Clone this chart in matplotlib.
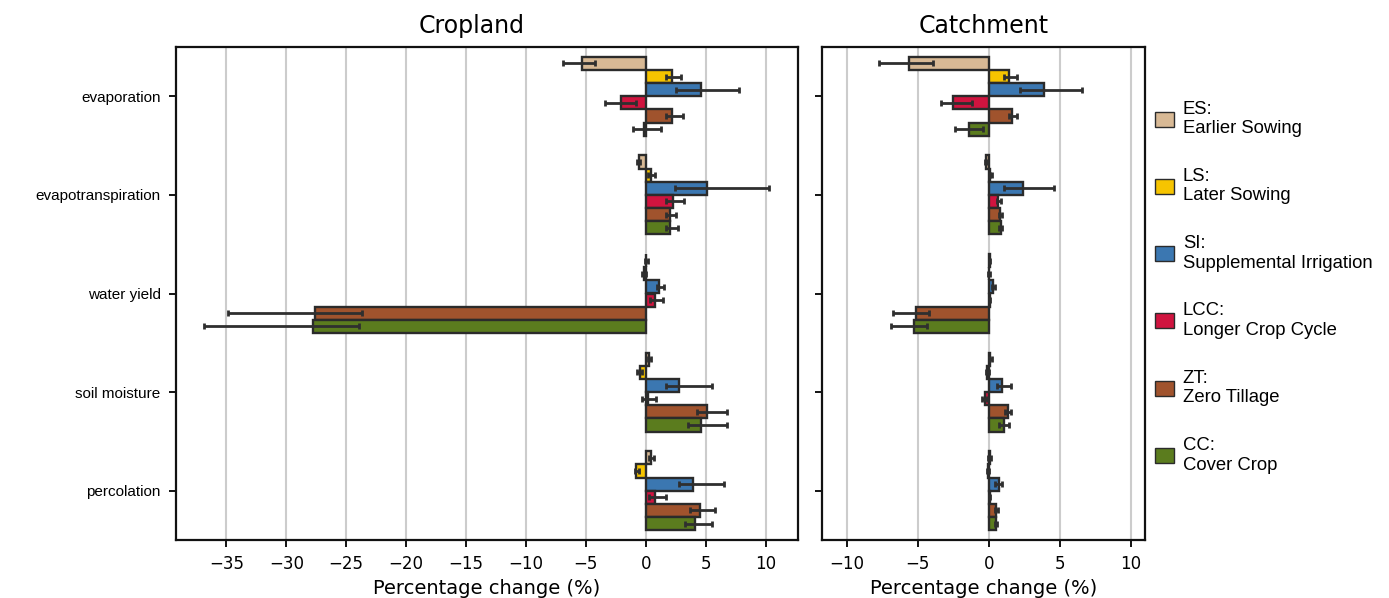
import numpy as np
import matplotlib
matplotlib.use("Agg")
import matplotlib.pyplot as plt
from matplotlib.patches import Patch

variables = ["evaporation", "evapotranspiration", "water yield", "soil moisture", "percolation"]
scenarios = ["ES", "LS", "SI", "LCC", "ZT", "CC"]
legend_labels = ["ES:\nEarlier Sowing", "LS:\nLater Sowing", "SI:\nSupplemental Irrigation",
                 "LCC:\nLonger Crop Cycle", "ZT:\nZero Tillage", "CC:\nCover Crop"]
colors = ["#D8B995", "#F6C400", "#3B77B1", "#D0143F", "#A0532D", "#5B7C1E"]

# Cropland: mean, lower CI, upper CI  (rows: variables, cols: scenarios)
crop_val = [[-5.3, 2.2, 4.6, -2.1, 2.2, -0.15],
            [-0.6, 0.4, 5.1, 2.25, 2.0, 2.0],
            [0.05, -0.15, 1.1, 0.8, -27.6, -27.8],
            [0.3, -0.5, 2.8, 0.2, 5.1, 4.6],
            [0.42, -0.78, 3.97, 0.8, 4.5, 4.1]]
crop_lo = [[-6.9, 1.7, 2.5, -3.4, 1.7, -1.1],
           [-0.75, 0.2, 2.4, 1.7, 1.7, 1.7],
           [-0.1, -0.3, 0.9, 0.33, -34.9, -36.9],
           [0.2, -0.7, 1.67, -0.3, 4.3, 3.5],
           [0.28, -0.9, 2.8, 0.28, 3.7, 3.3]]
crop_hi = [[-4.2, 2.9, 7.8, -0.8, 3.1, 1.25],
           [-0.45, 0.75, 10.3, 3.2, 2.55, 2.7],
           [0.2, 0.0, 1.5, 1.4, -23.7, -23.9],
           [0.4, -0.28, 5.55, 0.86, 6.8, 6.8],
           [0.7, -0.56, 6.5, 1.67, 5.75, 5.5]]

# Catchment
catch_val = [[-5.6, 1.44, 3.92, -2.53, 1.63, -1.4],
             [-0.2, 0.1, 2.43, 0.66, 0.78, 0.85],
             [0.05, 0.0, 0.26, 0.05, -5.13, -5.27],
             [0.1, -0.1, 0.92, -0.25, 1.37, 1.06],
             [0.05, -0.05, 0.73, 0.05, 0.54, 0.52]]
catch_lo = [[-7.73, 1.09, 2.2, -3.38, 1.44, -2.37],
            [-0.3, 0.05, 1.06, 0.6, 0.7, 0.75],
            [0.0, -0.05, 0.2, 0.0, -6.77, -6.88],
            [0.0, -0.2, 0.61, -0.45, 1.13, 0.75],
            [-0.05, -0.1, 0.47, 0.0, 0.45, 0.45]]
catch_hi = [[-3.93, 1.96, 6.55, -1.2, 1.96, -0.38],
            [-0.1, 0.25, 4.6, 0.85, 0.9, 0.95],
            [0.1, 0.05, 0.4, 0.1, -4.23, -4.35],
            [0.2, 0.0, 1.56, -0.1, 1.58, 1.44],
            [0.15, 0.0, 0.94, 0.1, 0.62, 0.6]]

crop_ticks = [-35, -30, -25, -20, -15, -10, -5, 0, 5, 10]
catch_ticks = [-10, -5, 0, 5, 10]

W, H = 1389, 598
fig = plt.figure(figsize=(W / 100, H / 100), dpi=100)
ax1 = fig.add_axes([176 / W, 1 - 540 / H, (798 - 176) / W, (540 - 47) / H])
ax2 = fig.add_axes([822 / W, 1 - 540 / H, (1145 - 822) / W, (540 - 47) / H])

nS = len(scenarios)
bh = 0.8 / nS
ypos = np.arange(len(variables))


def draw(ax, val, lo, hi, xlim, ticks, title, title_x, show_labels):
    val = np.array(val); lo = np.array(lo); hi = np.array(hi)
    ax.set_axisbelow(True)
    for j in range(nS):
        y = ypos + (j - (nS - 1) / 2) * bh
        ax.barh(y, val[:, j], height=bh, color=colors[j], edgecolor="#2b2b2b",
                linewidth=1.7, zorder=2)
        xerr = np.vstack([val[:, j] - lo[:, j], hi[:, j] - val[:, j]])
        xerr = np.clip(xerr, 0, None)
        ax.errorbar(val[:, j], y, xerr=xerr, fmt="none", ecolor="#2f2f2f",
                    elinewidth=2.0, capsize=2.5, capthick=2.0, zorder=3)
    ax.set_xlim(*xlim)
    ax.set_ylim(len(variables) - 0.5, -0.5)
    ax.set_xticks(ticks)
    ax.grid(axis="x", color="#cccccc", linewidth=1.5)
    ax.set_yticks(ypos)
    if show_labels:
        ax.set_yticklabels(variables, fontsize=11, family="Liberation Sans")
    else:
        ax.set_yticklabels([])
    ax.tick_params(axis="x", labelsize=12, length=5, width=1.3, pad=6)
    ax.tick_params(axis="y", length=5, width=1.3, pad=6)
    for s in ax.spines.values():
        s.set_linewidth(1.6)
        s.set_color("#111111")
    ax.set_title(title, fontsize=17, pad=10, x=title_x)
    ax.set_xlabel("Percentage change (%)", fontsize=14, labelpad=4)


draw(ax1, crop_val, crop_lo, crop_hi, (-39.2, 12.7), crop_ticks, "Cropland", 0.475, True)
draw(ax2, catch_val, catch_lo, catch_hi, (-11.75, 11.0), catch_ticks, "Catchment", 0.5, False)

handles = [Patch(facecolor=c, edgecolor="#2b2b2b", linewidth=1.0) for c in colors]
fig.legend(handles, legend_labels, loc="upper left", bbox_to_anchor=(1138.5 / W, 1 - 84 / H),
           frameon=False, prop={"family": "Liberation Sans", "size": 13.3},
           handlelength=1.0, handleheight=0.87, handletextpad=0.5, labelspacing=1.66)

fig.savefig("out.png", dpi=100)
